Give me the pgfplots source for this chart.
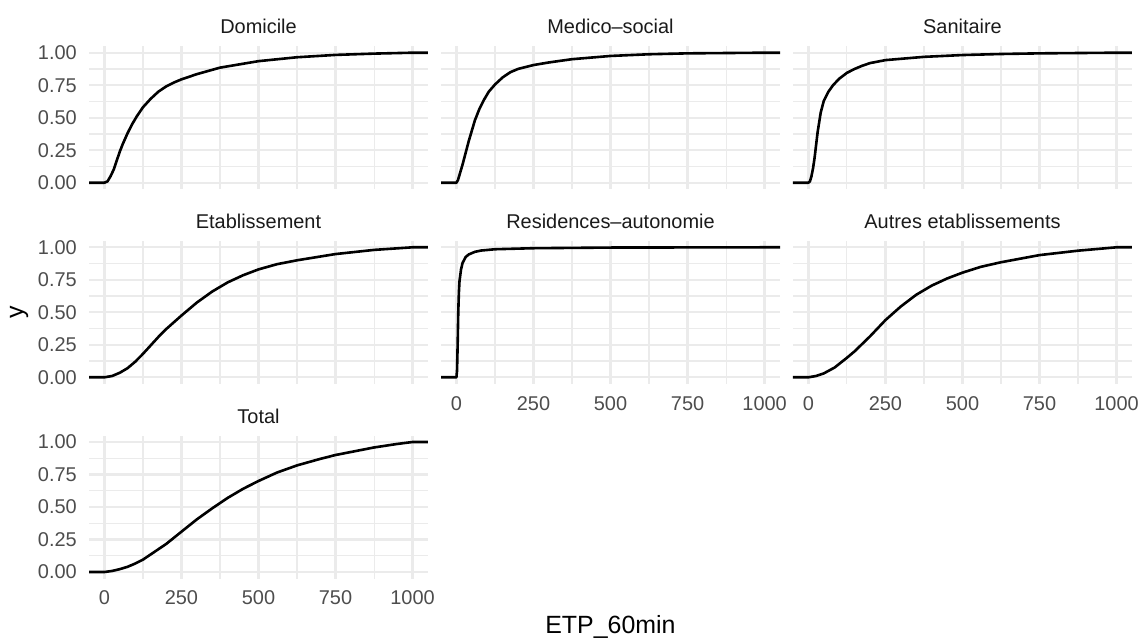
\documentclass[border=0pt]{standalone}
\usepackage{fontspec}
\setmainfont{Liberation Sans}
\usepackage{pgfplots}
\pgfplotsset{compat=1.18}
\definecolor{gridgray}{HTML}{EBEBEB}
\definecolor{axisgray}{HTML}{4D4D4D}
\definecolor{stripgray}{HTML}{1A1A1A}
\pgfplotsset{
  panel/.style={
    scale only axis, width=149.61pt, height=63.11pt,
    anchor=north west,
    xmin=-50, xmax=1050, ymin=-0.05, ymax=1.05,
    xtick={0,250,500,750,1000}, ytick={0,0.25,0.5,0.75,1},
    minor xtick={125,375,625,875}, minor ytick={0.125,0.375,0.625,0.875},
    grid=both,
    major grid style={draw=gridgray, line width=1.0pt},
    minor grid style={draw=gridgray, line width=0.5pt},
    axis line style={draw=none},
    major tick length=0pt, minor tick length=0pt,
    tick style={draw=none},
    /pgf/number format/assume math mode=true,
    /pgf/number format/1000 sep={},
    ticklabel style={font=\fontsize{8.8}{10}\selectfont, text=axisgray},
    xticklabel style={inner sep=0pt, anchor=north, yshift=-5.3pt},
    yticklabel style={inner sep=0pt, anchor=east, xshift=-5.2pt,
      /pgf/number format/fixed, /pgf/number format/fixed zerofill, /pgf/number format/precision=2},
    title style={font=\fontsize{8.8}{10}\selectfont, text=stripgray, at={(0.5,1)}, anchor=base, inner sep=0pt, yshift=-0.5pt},
    cycle list={{black, mark=none}},
    every axis plot/.append style={line width=1.15pt, line join=round, line cap=round},
  },
  noxlab/.style={xticklabels={}},
  noylab/.style={yticklabels={}},
}
\begin{document}
\begin{tikzpicture}
\useasboundingbox (0,0) rectangle (504pt,-281.13pt);
% Row 1
\begin{axis}[panel, noxlab, at={(39.28pt,-20.39pt)}, title={Domicile}]
\addplot coordinates {(-50,0)(0,0)(10,0.01)(20,0.05)(30,0.1)(40,0.17)(50,0.24)(60,0.3)(75,0.38)(90,0.45)(105,0.51)(125,0.58)(150,0.645)(175,0.70)(200,0.74)(225,0.77)(250,0.795)(300,0.835)(375,0.885)(450,0.915)(500,0.935)(625,0.965)(750,0.983)(875,0.993)(1000,1.0)(1050,1.0)};
\end{axis}
\begin{axis}[panel, noxlab, noylab, at={(194.63pt,-20.39pt)}, title={Medico\textendash social}]
\addplot coordinates {(-50,0)(0,0)(5,0.02)(10,0.06)(20,0.14)(30,0.23)(40,0.32)(50,0.40)(60,0.48)(75,0.57)(90,0.64)(105,0.70)(125,0.755)(150,0.81)(175,0.85)(200,0.875)(250,0.905)(300,0.925)(375,0.95)(500,0.975)(625,0.988)(750,0.995)(1000,1.0)(1050,1)};
\end{axis}
\begin{axis}[panel, noxlab, noylab, at={(349.97pt,-20.39pt)}, title={Sanitaire}]
\addplot coordinates {(-50,0)(0,0)(5,0.01)(10,0.05)(15,0.11)(20,0.19)(25,0.29)(30,0.39)(40,0.54)(50,0.63)(65,0.70)(80,0.75)(100,0.80)(125,0.845)(150,0.875)(175,0.90)(200,0.92)(250,0.943)(375,0.968)(500,0.982)(625,0.99)(750,0.995)(1000,1)(1050,1)};
\end{axis}
% Row 2
\begin{axis}[panel, noxlab, at={(39.28pt,-106.27pt)}, title={Etablissement}]
\addplot coordinates {(-50,0)(0,0)(25,0.01)(50,0.035)(75,0.07)(100,0.12)(125,0.18)(150,0.245)(175,0.31)(200,0.37)(250,0.475)(300,0.575)(350,0.66)(400,0.73)(450,0.785)(500,0.83)(560,0.87)(625,0.90)(750,0.948)(875,0.98)(1000,1)(1050,1)};
\end{axis}
\begin{axis}[panel, noylab, at={(194.63pt,-106.27pt)}, title={Residences\textendash autonomie}]
\addplot coordinates {(-50,0)(0,0)(2,0.05)(4,0.25)(6,0.5)(8,0.65)(10,0.74)(15,0.83)(20,0.88)(30,0.925)(40,0.945)(60,0.965)(80,0.975)(125,0.985)(250,0.993)(500,0.998)(1000,1)(1050,1)};
\end{axis}
\begin{axis}[panel, noylab, at={(349.97pt,-106.27pt)}, title={Autres etablissements}]
\addplot coordinates {(-50,0)(0,0)(25,0.01)(50,0.03)(85,0.075)(125,0.15)(150,0.20)(200,0.315)(250,0.44)(300,0.545)(350,0.635)(400,0.705)(450,0.76)(500,0.805)(560,0.85)(625,0.885)(750,0.94)(875,0.974)(1000,1)(1050,1)};
\end{axis}
% Row 3
\begin{axis}[panel, at={(39.28pt,-192.20pt)}, title={Total}]
\addplot coordinates {(-50,0)(0,0)(25,0.008)(50,0.022)(75,0.04)(100,0.065)(125,0.095)(150,0.135)(175,0.175)(200,0.215)(250,0.31)(300,0.405)(350,0.49)(400,0.57)(450,0.64)(500,0.70)(560,0.765)(625,0.82)(700,0.87)(750,0.90)(875,0.958)(950,0.985)(1000,1)(1050,1)};
\end{axis}
% Axis titles
\node[anchor=base, font=\fontsize{11}{13}\selectfont, inner sep=0pt] at (269.4pt,-279.4pt) {ETP\_60min};
\node[rotate=90, font=\fontsize{11}{13}\selectfont, inner sep=0pt] at (8.4pt,-138pt) {y};
\end{tikzpicture}
\end{document}
